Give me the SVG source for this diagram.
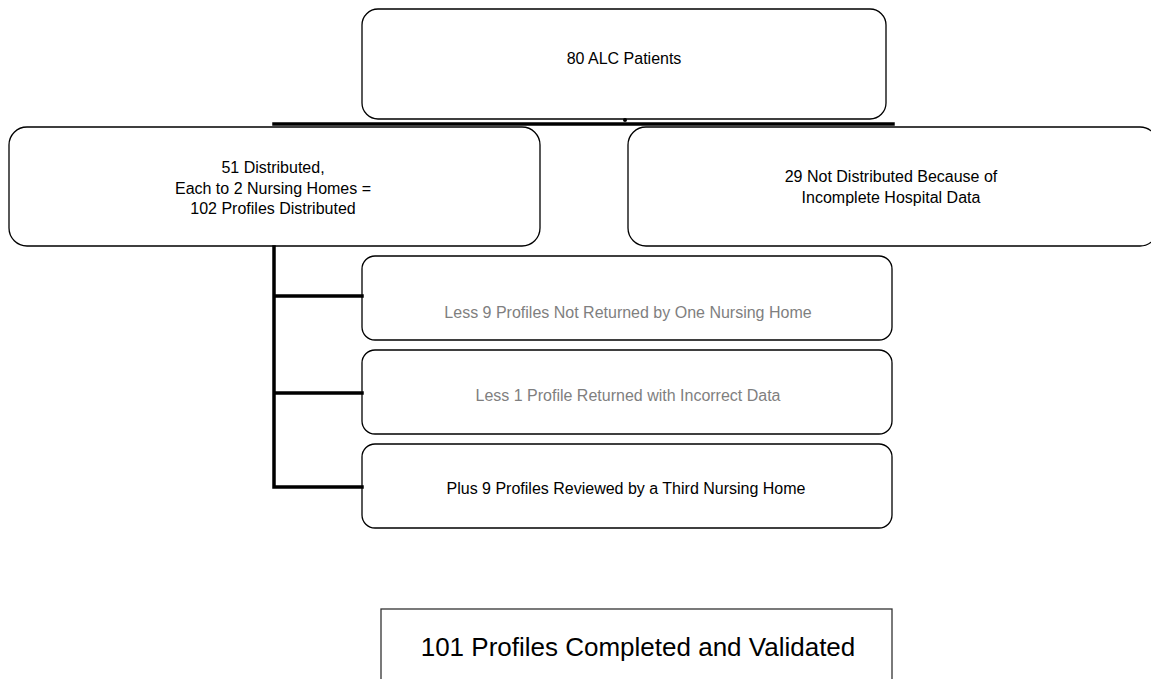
<svg xmlns="http://www.w3.org/2000/svg" width="1151" height="679" viewBox="0 0 1151 679">
<style>
.box{fill:#fff;stroke:#000;stroke-width:1.3}
.t{font-family:"Liberation Sans",Arial,sans-serif;font-size:16px;fill:#000;text-anchor:middle}
.g{fill:#7f7f7f}
.big{font-size:26px}
.con{stroke:#000;stroke-width:3.5;fill:none;stroke-linecap:square}
</style>
<rect width="1151" height="679" fill="#fff"/>
<g id="n-top"><rect class="box" x="362" y="9" width="524" height="110" rx="16"/><text class="t" x="624" y="64">80 ALC Patients</text></g>
<g id="n-dist"><rect class="box" x="9" y="127" width="531" height="119" rx="18"/><text class="t" x="273" y="173">51 Distributed,</text><text class="t" x="273" y="194">Each to 2 Nursing Homes =</text><text class="t" x="273" y="214">102 Profiles Distributed</text></g>
<g id="n-notdist"><rect class="box" x="628" y="127" width="530" height="119" rx="18"/><text class="t" x="891" y="182">29 Not Distributed Because of</text><text class="t" x="891" y="203">Incomplete Hospital Data</text></g>
<g id="n-less9"><rect class="box" x="362" y="256" width="530" height="84" rx="13"/><text class="t g" x="628" y="318">Less 9 Profiles Not Returned by One Nursing Home</text></g>
<g id="n-less1"><rect class="box" x="362" y="350" width="530" height="84" rx="13"/><text class="t g" x="628" y="401">Less 1 Profile Returned with Incorrect Data</text></g>
<g id="n-plus9"><rect class="box" x="362" y="444" width="530" height="84" rx="13"/><text class="t" x="626" y="494">Plus 9 Profiles Reviewed by a Third Nursing Home</text></g>
<g id="n-final"><rect x="381" y="609" width="511" height="80" fill="#fff" stroke="#333" stroke-width="1.3"/><text class="t big" x="638" y="656">101 Profiles Completed and Validated</text></g>
<g id="connectors">
<path class="con" d="M274 124H893"/>
<circle cx="625" cy="120" r="2"/>
<path class="con" d="M274 247V487M274 296H362M274 393H362M274 487H362"/>
</g>
</svg>
